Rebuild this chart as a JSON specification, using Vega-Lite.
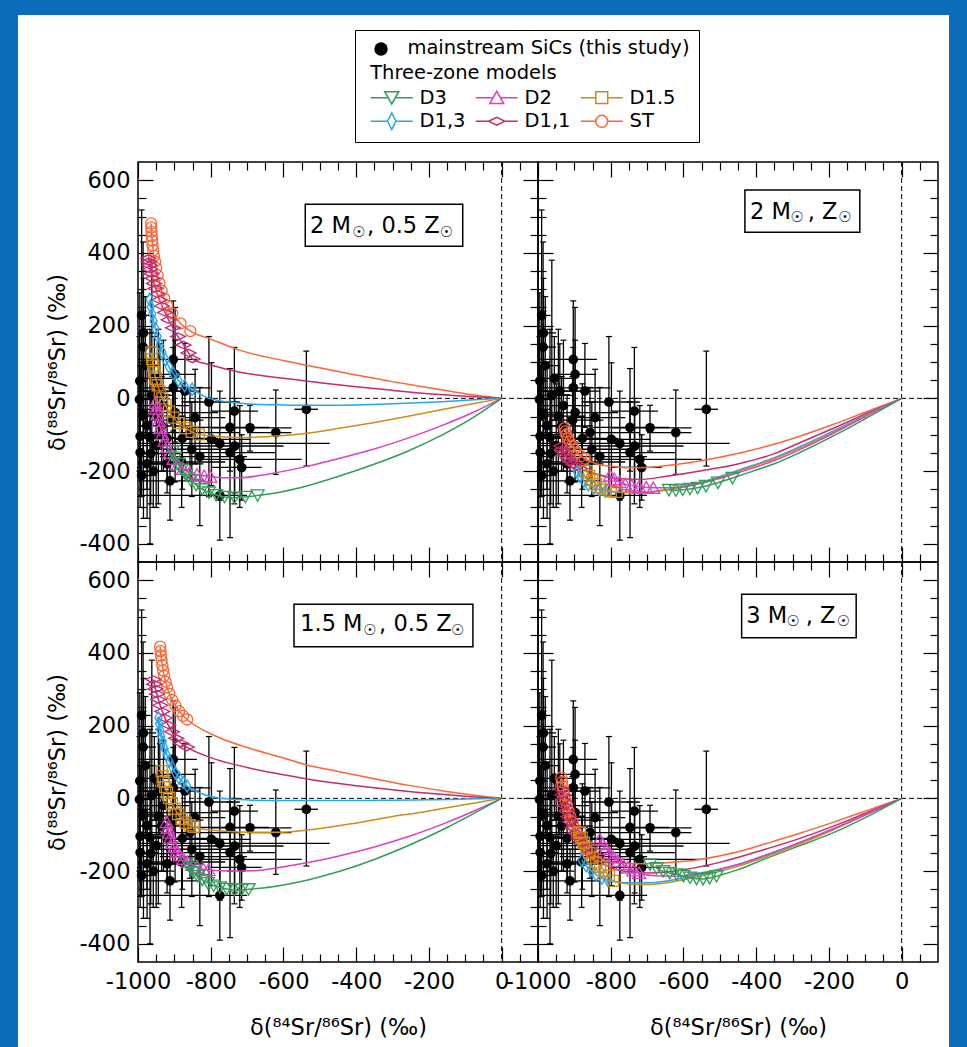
{
  "$schema": "https://vega.github.io/schema/vega-lite/v6.json",
  "background": "white",
  "padding": 0,
  "autosize": {"type": "pad"},
  "config": {
    "font": "DejaVu Sans",
    "view": {"stroke": null},
    "axis": {"grid": false, "domain": false, "tickColor": "black", "tickWidth": 1.2, "labelColor": "black", "titleColor": "black", "labelFontSize": 22.5, "titleFontSize": 22.5, "titleFontWeight": "normal"},
    "text": {"color": "black"}
  },
  "datasets": {
    "sic": [
      {"x":-990,"y":228,"xlo":-1000,"xhi":-965,"ylo":-60,"yhi":518},
      {"x":-986,"y":141,"xlo":-1000,"xhi":-950,"ylo":-160,"yhi":430},
      {"x":-995,"y":48,"xlo":-1000,"xhi":-975,"ylo":-190,"yhi":290},
      {"x":-962,"y":8,"xlo":-1000,"xhi":-905,"ylo":-180,"yhi":380},
      {"x":-985,"y":-45,"xlo":-1000,"xhi":-940,"ylo":-330,"yhi":240},
      {"x":-944,"y":-49,"xlo":-1000,"xhi":-870,"ylo":-290,"yhi":190},
      {"x":-994,"y":-104,"xlo":-1000,"xhi":-935,"ylo":-300,"yhi":90},
      {"x":-967,"y":-108,"xlo":-1000,"xhi":-900,"ylo":-400,"yhi":190},
      {"x":-994,"y":-149,"xlo":-1000,"xhi":-945,"ylo":-270,"yhi":-30},
      {"x":-965,"y":-152,"xlo":-1000,"xhi":-880,"ylo":-290,"yhi":0},
      {"x":-990,"y":-212,"xlo":-1000,"xhi":-950,"ylo":-270,"yhi":-150},
      {"x":-903,"y":107,"xlo":-1000,"xhi":-838,"ylo":-50,"yhi":268},
      {"x":-898,"y":66,"xlo":-960,"xhi":-840,"ylo":-120,"yhi":250},
      {"x":-903,"y":29,"xlo":-1000,"xhi":-800,"ylo":-90,"yhi":140},
      {"x":-871,"y":20,"xlo":-1000,"xhi":-830,"ylo":-80,"yhi":151},
      {"x":-898,"y":-39,"xlo":-1000,"xhi":-780,"ylo":-230,"yhi":160},
      {"x":-843,"y":-53,"xlo":-920,"xhi":-760,"ylo":-180,"yhi":80},
      {"x":-805,"y":-10,"xlo":-880,"xhi":-720,"ylo":-270,"yhi":170},
      {"x":-912,"y":-227,"xlo":-1000,"xhi":-830,"ylo":-335,"yhi":-140},
      {"x":-775,"y":-267,"xlo":-1000,"xhi":-700,"ylo":-390,"yhi":-130},
      {"x":-735,"y":-35,"xlo":-800,"xhi":-670,"ylo":-290,"yhi":140},
      {"x":-692,"y":-81,"xlo":-800,"xhi":-578,"ylo":-145,"yhi":-19},
      {"x":-621,"y":-94,"xlo":-700,"xhi":-578,"ylo":-209,"yhi":23},
      {"x":-537,"y":-30,"xlo":-570,"xhi":-505,"ylo":-186,"yhi":130},
      {"x":-734,"y":-131,"xlo":-860,"xhi":-600,"ylo":-260,"yhi":0},
      {"x":-747,"y":-149,"xlo":-880,"xhi":-620,"ylo":-383,"yhi":-10},
      {"x":-720,"y":-168,"xlo":-840,"xhi":-550,"ylo":-300,"yhi":-20},
      {"x":-775,"y":-124,"xlo":-1000,"xhi":-473,"ylo":-280,"yhi":20},
      {"x":-857,"y":-94,"xlo":-1000,"xhi":-720,"ylo":-220,"yhi":30},
      {"x":-852,"y":-140,"xlo":-960,"xhi":-740,"ylo":-270,"yhi":-10},
      {"x":-798,"y":-113,"xlo":-900,"xhi":-690,"ylo":-240,"yhi":98},
      {"x":-935,"y":-76,"xlo":-1000,"xhi":-850,"ylo":-200,"yhi":60},
      {"x":-950,"y":-130,"xlo":-1000,"xhi":-860,"ylo":-300,"yhi":40},
      {"x":-975,"y":-180,"xlo":-1000,"xhi":-900,"ylo":-330,"yhi":-30},
      {"x":-920,"y":-180,"xlo":-1000,"xhi":-820,"ylo":-260,"yhi":-100},
      {"x":-880,"y":-175,"xlo":-1000,"xhi":-760,"ylo":-300,"yhi":-50},
      {"x":-830,"y":-160,"xlo":-940,"xhi":-700,"ylo":-350,"yhi":30},
      {"x":-980,"y":90,"xlo":-1000,"xhi":-940,"ylo":-100,"yhi":280},
      {"x":-930,"y":-20,"xlo":-1000,"xhi":-860,"ylo":-200,"yhi":160},
      {"x":-715,"y":-190,"xlo":-800,"xhi":-660,"ylo":-280,"yhi":-100},
      {"x":-955,"y":55,"xlo":-1000,"xhi":-900,"ylo":-60,"yhi":170},
      {"x":-878,"y":-110,"xlo":-1000,"xhi":-780,"ylo":-250,"yhi":40},
      {"x":-747,"y":-80,"xlo":-850,"xhi":-640,"ylo":-200,"yhi":82},
      {"x":-996,"y":-3,"xlo":-1000,"xhi":-960,"ylo":-200,"yhi":170},
      {"x":-975,"y":-75,"xlo":-1000,"xhi":-930,"ylo":-250,"yhi":100},
      {"x":-958,"y":-200,"xlo":-1000,"xhi":-900,"ylo":-300,"yhi":-100},
      {"x":-940,"y":20,"xlo":-1000,"xhi":-880,"ylo":-100,"yhi":150},
      {"x":-985,"y":180,"xlo":-1000,"xhi":-950,"ylo":20,"yhi":330},
      {"x":-920,"y":-110,"xlo":-1000,"xhi":-840,"ylo":-230,"yhi":10},
      {"x":-905,"y":-60,"xlo":-970,"xhi":-820,"ylo":-180,"yhi":60}
    ],
    "curves": [
      {"p":"A","m":"ST","k":"pulse","x":-964,"y":481},{"p":"A","m":"ST","k":"pulse","x":-963.5,"y":470},{"p":"A","m":"ST","k":"pulse","x":-963,"y":458},{"p":"A","m":"ST","k":"pulse","x":-962,"y":446},{"p":"A","m":"ST","k":"pulse","x":-961,"y":434},{"p":"A","m":"ST","k":"pulse","x":-960,"y":421},{"p":"A","m":"ST","k":"pulse","x":-958,"y":407},{"p":"A","m":"ST","k":"pulse","x":-956,"y":392},{"p":"A","m":"ST","k":"pulse","x":-953,"y":376},{"p":"A","m":"ST","k":"pulse","x":-950,"y":358},{"p":"A","m":"ST","k":"pulse","x":-946,"y":338},{"p":"A","m":"ST","k":"pulse","x":-941,"y":317},{"p":"A","m":"ST","k":"pulse","x":-935,"y":296},{"p":"A","m":"ST","k":"pulse","x":-928,"y":275},{"p":"A","m":"ST","k":"pulse","x":-920,"y":255},{"p":"A","m":"ST","k":"pulse","x":-906,"y":234},{"p":"A","m":"ST","k":"pulse","x":-883,"y":206},{"p":"A","m":"ST","k":"pulse","x":-856,"y":185},
      {"p":"A","m":"ST","k":"mix","x":-800,"y":163},{"p":"A","m":"ST","k":"mix","x":-719,"y":132},{"p":"A","m":"ST","k":"mix","x":-600,"y":104},{"p":"A","m":"ST","k":"mix","x":-500,"y":84},{"p":"A","m":"ST","k":"mix","x":-400,"y":64},{"p":"A","m":"ST","k":"mix","x":-300,"y":46},{"p":"A","m":"ST","k":"mix","x":-200,"y":29},{"p":"A","m":"ST","k":"mix","x":-100,"y":13},{"p":"A","m":"ST","k":"mix","x":0,"y":0},
      {"p":"A","m":"D1,1","k":"pulse","x":-972,"y":385},{"p":"A","m":"D1,1","k":"pulse","x":-970,"y":376},{"p":"A","m":"D1,1","k":"pulse","x":-968,"y":366},{"p":"A","m":"D1,1","k":"pulse","x":-966,"y":355},{"p":"A","m":"D1,1","k":"pulse","x":-963,"y":343},{"p":"A","m":"D1,1","k":"pulse","x":-960,"y":330},{"p":"A","m":"D1,1","k":"pulse","x":-956,"y":316},{"p":"A","m":"D1,1","k":"pulse","x":-952,"y":302},{"p":"A","m":"D1,1","k":"pulse","x":-947,"y":287},{"p":"A","m":"D1,1","k":"pulse","x":-941,"y":271},{"p":"A","m":"D1,1","k":"pulse","x":-934,"y":254},{"p":"A","m":"D1,1","k":"pulse","x":-926,"y":236},{"p":"A","m":"D1,1","k":"pulse","x":-916,"y":216},{"p":"A","m":"D1,1","k":"pulse","x":-904,"y":194},{"p":"A","m":"D1,1","k":"pulse","x":-890,"y":170},{"p":"A","m":"D1,1","k":"pulse","x":-875,"y":147},{"p":"A","m":"D1,1","k":"pulse","x":-861,"y":125},{"p":"A","m":"D1,1","k":"pulse","x":-850,"y":108},
      {"p":"A","m":"D1,1","k":"mix","x":-800,"y":92},{"p":"A","m":"D1,1","k":"mix","x":-719,"y":72},{"p":"A","m":"D1,1","k":"mix","x":-600,"y":55},{"p":"A","m":"D1,1","k":"mix","x":-500,"y":43},{"p":"A","m":"D1,1","k":"mix","x":-400,"y":32},{"p":"A","m":"D1,1","k":"mix","x":-300,"y":22},{"p":"A","m":"D1,1","k":"mix","x":-200,"y":13},{"p":"A","m":"D1,1","k":"mix","x":-100,"y":6},{"p":"A","m":"D1,1","k":"mix","x":0,"y":0},
      {"p":"A","m":"D1,3","k":"pulse","x":-968,"y":272},{"p":"A","m":"D1,3","k":"pulse","x":-965,"y":252},{"p":"A","m":"D1,3","k":"pulse","x":-961,"y":232},{"p":"A","m":"D1,3","k":"pulse","x":-957,"y":212},{"p":"A","m":"D1,3","k":"pulse","x":-952,"y":192},{"p":"A","m":"D1,3","k":"pulse","x":-946,"y":170},{"p":"A","m":"D1,3","k":"pulse","x":-940,"y":148},{"p":"A","m":"D1,3","k":"pulse","x":-933,"y":127},{"p":"A","m":"D1,3","k":"pulse","x":-925,"y":107},{"p":"A","m":"D1,3","k":"pulse","x":-915,"y":87},{"p":"A","m":"D1,3","k":"pulse","x":-903,"y":68},{"p":"A","m":"D1,3","k":"pulse","x":-889,"y":50},{"p":"A","m":"D1,3","k":"pulse","x":-872,"y":35},{"p":"A","m":"D1,3","k":"pulse","x":-851,"y":25},
      {"p":"A","m":"D1,3","k":"mix","x":-810,"y":2},{"p":"A","m":"D1,3","k":"mix","x":-750,"y":-10},{"p":"A","m":"D1,3","k":"mix","x":-682,"y":-16},{"p":"A","m":"D1,3","k":"mix","x":-600,"y":-18},{"p":"A","m":"D1,3","k":"mix","x":-500,"y":-19},{"p":"A","m":"D1,3","k":"mix","x":-400,"y":-18},{"p":"A","m":"D1,3","k":"mix","x":-300,"y":-15},{"p":"A","m":"D1,3","k":"mix","x":-200,"y":-11},{"p":"A","m":"D1,3","k":"mix","x":-100,"y":-5},{"p":"A","m":"D1,3","k":"mix","x":0,"y":0},
      {"p":"A","m":"D1.5","k":"pulse","x":-963,"y":126},{"p":"A","m":"D1.5","k":"pulse","x":-961,"y":108},{"p":"A","m":"D1.5","k":"pulse","x":-958,"y":90},{"p":"A","m":"D1.5","k":"pulse","x":-955,"y":72},{"p":"A","m":"D1.5","k":"pulse","x":-951,"y":54},{"p":"A","m":"D1.5","k":"pulse","x":-946,"y":36},{"p":"A","m":"D1.5","k":"pulse","x":-940,"y":18},{"p":"A","m":"D1.5","k":"pulse","x":-933,"y":0},{"p":"A","m":"D1.5","k":"pulse","x":-925,"y":-18},{"p":"A","m":"D1.5","k":"pulse","x":-915,"y":-36},{"p":"A","m":"D1.5","k":"pulse","x":-903,"y":-53},{"p":"A","m":"D1.5","k":"pulse","x":-888,"y":-68},{"p":"A","m":"D1.5","k":"pulse","x":-870,"y":-82},{"p":"A","m":"D1.5","k":"pulse","x":-852,"y":-92},{"p":"A","m":"D1.5","k":"pulse","x":-833,"y":-99},
      {"p":"A","m":"D1.5","k":"mix","x":-760,"y":-106},{"p":"A","m":"D1.5","k":"mix","x":-700,"y":-108},{"p":"A","m":"D1.5","k":"mix","x":-640,"y":-105},{"p":"A","m":"D1.5","k":"mix","x":-536,"y":-96},{"p":"A","m":"D1.5","k":"mix","x":-450,"y":-83},{"p":"A","m":"D1.5","k":"mix","x":-353,"y":-67},{"p":"A","m":"D1.5","k":"mix","x":-250,"y":-48},{"p":"A","m":"D1.5","k":"mix","x":-170,"y":-32},{"p":"A","m":"D1.5","k":"mix","x":-80,"y":-15},{"p":"A","m":"D1.5","k":"mix","x":0,"y":0},
      {"p":"A","m":"D2","k":"pulse","x":-952,"y":-12},{"p":"A","m":"D2","k":"pulse","x":-950,"y":-28},{"p":"A","m":"D2","k":"pulse","x":-947,"y":-44},{"p":"A","m":"D2","k":"pulse","x":-943,"y":-62},{"p":"A","m":"D2","k":"pulse","x":-938,"y":-80},{"p":"A","m":"D2","k":"pulse","x":-933,"y":-98},{"p":"A","m":"D2","k":"pulse","x":-927,"y":-116},{"p":"A","m":"D2","k":"pulse","x":-920,"y":-133},{"p":"A","m":"D2","k":"pulse","x":-912,"y":-150},{"p":"A","m":"D2","k":"pulse","x":-902,"y":-166},{"p":"A","m":"D2","k":"pulse","x":-890,"y":-181},{"p":"A","m":"D2","k":"pulse","x":-876,"y":-194},{"p":"A","m":"D2","k":"pulse","x":-858,"y":-204},{"p":"A","m":"D2","k":"pulse","x":-838,"y":-210},{"p":"A","m":"D2","k":"pulse","x":-818,"y":-213},{"p":"A","m":"D2","k":"pulse","x":-801,"y":-215},
      {"p":"A","m":"D2","k":"mix","x":-760,"y":-218},{"p":"A","m":"D2","k":"mix","x":-719,"y":-218},{"p":"A","m":"D2","k":"mix","x":-640,"y":-208},{"p":"A","m":"D2","k":"mix","x":-536,"y":-187},{"p":"A","m":"D2","k":"mix","x":-450,"y":-166},{"p":"A","m":"D2","k":"mix","x":-353,"y":-140},{"p":"A","m":"D2","k":"mix","x":-260,"y":-110},{"p":"A","m":"D2","k":"mix","x":-170,"y":-77},{"p":"A","m":"D2","k":"mix","x":-79,"y":-39},{"p":"A","m":"D2","k":"mix","x":0,"y":0},
      {"p":"A","m":"D3","k":"pulse","x":-905,"y":-145},{"p":"A","m":"D3","k":"pulse","x":-898,"y":-163},{"p":"A","m":"D3","k":"pulse","x":-890,"y":-180},{"p":"A","m":"D3","k":"pulse","x":-880,"y":-196},{"p":"A","m":"D3","k":"pulse","x":-868,"y":-211},{"p":"A","m":"D3","k":"pulse","x":-855,"y":-225},{"p":"A","m":"D3","k":"pulse","x":-840,"y":-238},{"p":"A","m":"D3","k":"pulse","x":-823,"y":-250},{"p":"A","m":"D3","k":"pulse","x":-805,"y":-259},{"p":"A","m":"D3","k":"pulse","x":-785,"y":-266},{"p":"A","m":"D3","k":"pulse","x":-762,"y":-271},{"p":"A","m":"D3","k":"pulse","x":-735,"y":-273},{"p":"A","m":"D3","k":"pulse","x":-705,"y":-271},{"p":"A","m":"D3","k":"pulse","x":-671,"y":-267},
      {"p":"A","m":"D3","k":"mix","x":-600,"y":-256},{"p":"A","m":"D3","k":"mix","x":-536,"y":-241},{"p":"A","m":"D3","k":"mix","x":-450,"y":-215},{"p":"A","m":"D3","k":"mix","x":-353,"y":-182},{"p":"A","m":"D3","k":"mix","x":-260,"y":-146},{"p":"A","m":"D3","k":"mix","x":-170,"y":-104},{"p":"A","m":"D3","k":"mix","x":-79,"y":-53},{"p":"A","m":"D3","k":"mix","x":0,"y":0},

      {"p":"B","m":"ST","k":"pulse","x":-927,"y":-82},{"p":"B","m":"ST","k":"pulse","x":-925,"y":-91},{"p":"B","m":"ST","k":"pulse","x":-922,"y":-100},{"p":"B","m":"ST","k":"pulse","x":-918,"y":-110},{"p":"B","m":"ST","k":"pulse","x":-913,"y":-120},{"p":"B","m":"ST","k":"pulse","x":-907,"y":-130},{"p":"B","m":"ST","k":"pulse","x":-900,"y":-140},{"p":"B","m":"ST","k":"pulse","x":-892,"y":-150},{"p":"B","m":"ST","k":"pulse","x":-882,"y":-159},{"p":"B","m":"ST","k":"pulse","x":-871,"y":-166},
      {"p":"B","m":"ST","k":"mix","x":-840,"y":-180},{"p":"B","m":"ST","k":"mix","x":-790,"y":-188},{"p":"B","m":"ST","k":"mix","x":-747,"y":-191},{"p":"B","m":"ST","k":"mix","x":-700,"y":-190},{"p":"B","m":"ST","k":"mix","x":-640,"y":-184},{"p":"B","m":"ST","k":"mix","x":-555,"y":-172},{"p":"B","m":"ST","k":"mix","x":-445,"y":-150},{"p":"B","m":"ST","k":"mix","x":-354,"y":-127},{"p":"B","m":"ST","k":"mix","x":-280,"y":-104},{"p":"B","m":"ST","k":"mix","x":-189,"y":-72},{"p":"B","m":"ST","k":"mix","x":-100,"y":-38},{"p":"B","m":"ST","k":"mix","x":0,"y":0},
      {"p":"B","m":"D1,1","k":"pulse","x":-936,"y":-131},{"p":"B","m":"D1,1","k":"pulse","x":-933,"y":-140},{"p":"B","m":"D1,1","k":"pulse","x":-929,"y":-149},{"p":"B","m":"D1,1","k":"pulse","x":-924,"y":-158},{"p":"B","m":"D1,1","k":"pulse","x":-918,"y":-166},{"p":"B","m":"D1,1","k":"pulse","x":-911,"y":-174},{"p":"B","m":"D1,1","k":"pulse","x":-903,"y":-181},{"p":"B","m":"D1,1","k":"pulse","x":-894,"y":-187},{"p":"B","m":"D1,1","k":"pulse","x":-884,"y":-193},
      {"p":"B","m":"D1,1","k":"mix","x":-840,"y":-208},{"p":"B","m":"D1,1","k":"mix","x":-790,"y":-220},{"p":"B","m":"D1,1","k":"mix","x":-720,"y":-223},{"p":"B","m":"D1,1","k":"mix","x":-646,"y":-214},{"p":"B","m":"D1,1","k":"mix","x":-550,"y":-199},{"p":"B","m":"D1,1","k":"mix","x":-445,"y":-179},{"p":"B","m":"D1,1","k":"mix","x":-350,"y":-152},{"p":"B","m":"D1,1","k":"mix","x":-280,"y":-122},{"p":"B","m":"D1,1","k":"mix","x":-189,"y":-83},{"p":"B","m":"D1,1","k":"mix","x":-100,"y":-43},{"p":"B","m":"D1,1","k":"mix","x":0,"y":0},
      {"p":"B","m":"D1,3","k":"pulse","x":-892,"y":-203},{"p":"B","m":"D1,3","k":"pulse","x":-884,"y":-215},{"p":"B","m":"D1,3","k":"pulse","x":-874,"y":-227},{"p":"B","m":"D1,3","k":"pulse","x":-862,"y":-237},{"p":"B","m":"D1,3","k":"pulse","x":-848,"y":-245},{"p":"B","m":"D1,3","k":"pulse","x":-832,"y":-251},{"p":"B","m":"D1,3","k":"pulse","x":-815,"y":-255},
      {"p":"B","m":"D1,3","k":"mix","x":-780,"y":-258},{"p":"B","m":"D1,3","k":"mix","x":-720,"y":-259},{"p":"B","m":"D1,3","k":"mix","x":-650,"y":-251},{"p":"B","m":"D1,3","k":"mix","x":-550,"y":-231},{"p":"B","m":"D1,3","k":"mix","x":-445,"y":-196},{"p":"B","m":"D1,3","k":"mix","x":-350,"y":-163},{"p":"B","m":"D1,3","k":"mix","x":-280,"y":-133},{"p":"B","m":"D1,3","k":"mix","x":-189,"y":-90},{"p":"B","m":"D1,3","k":"mix","x":-100,"y":-46},{"p":"B","m":"D1,3","k":"mix","x":0,"y":0},
      {"p":"B","m":"D1.5","k":"pulse","x":-866,"y":-200},{"p":"B","m":"D1.5","k":"pulse","x":-859,"y":-213},{"p":"B","m":"D1.5","k":"pulse","x":-851,"y":-225},{"p":"B","m":"D1.5","k":"pulse","x":-841,"y":-236},{"p":"B","m":"D1.5","k":"pulse","x":-829,"y":-245},{"p":"B","m":"D1.5","k":"pulse","x":-815,"y":-251},{"p":"B","m":"D1.5","k":"pulse","x":-800,"y":-255},{"p":"B","m":"D1.5","k":"pulse","x":-784,"y":-257},
      {"p":"B","m":"D1.5","k":"mix","x":-720,"y":-261},{"p":"B","m":"D1.5","k":"mix","x":-650,"y":-253},{"p":"B","m":"D1.5","k":"mix","x":-550,"y":-233},{"p":"B","m":"D1.5","k":"mix","x":-445,"y":-199},{"p":"B","m":"D1.5","k":"mix","x":-350,"y":-166},{"p":"B","m":"D1.5","k":"mix","x":-280,"y":-137},{"p":"B","m":"D1.5","k":"mix","x":-189,"y":-94},{"p":"B","m":"D1.5","k":"mix","x":-100,"y":-48},{"p":"B","m":"D1.5","k":"mix","x":0,"y":0},
      {"p":"B","m":"D2","k":"pulse","x":-802,"y":-212},{"p":"B","m":"D2","k":"pulse","x":-790,"y":-222},{"p":"B","m":"D2","k":"pulse","x":-776,"y":-230},{"p":"B","m":"D2","k":"pulse","x":-760,"y":-236},{"p":"B","m":"D2","k":"pulse","x":-742,"y":-240},{"p":"B","m":"D2","k":"pulse","x":-722,"y":-243},{"p":"B","m":"D2","k":"pulse","x":-702,"y":-245},{"p":"B","m":"D2","k":"pulse","x":-683,"y":-246},
      {"p":"B","m":"D2","k":"mix","x":-640,"y":-246},{"p":"B","m":"D2","k":"mix","x":-550,"y":-233},{"p":"B","m":"D2","k":"mix","x":-445,"y":-203},{"p":"B","m":"D2","k":"mix","x":-350,"y":-171},{"p":"B","m":"D2","k":"mix","x":-280,"y":-141},{"p":"B","m":"D2","k":"mix","x":-189,"y":-97},{"p":"B","m":"D2","k":"mix","x":-100,"y":-50},{"p":"B","m":"D2","k":"mix","x":0,"y":0},
      {"p":"B","m":"D3","k":"pulse","x":-640,"y":-252},{"p":"B","m":"D3","k":"pulse","x":-621,"y":-253},{"p":"B","m":"D3","k":"pulse","x":-602,"y":-251},{"p":"B","m":"D3","k":"pulse","x":-582,"y":-249},{"p":"B","m":"D3","k":"pulse","x":-561,"y":-246},{"p":"B","m":"D3","k":"pulse","x":-538,"y":-241},{"p":"B","m":"D3","k":"pulse","x":-505,"y":-232},{"p":"B","m":"D3","k":"pulse","x":-465,"y":-219},
      {"p":"B","m":"D3","k":"mix","x":-400,"y":-197},{"p":"B","m":"D3","k":"mix","x":-350,"y":-180},{"p":"B","m":"D3","k":"mix","x":-280,"y":-149},{"p":"B","m":"D3","k":"mix","x":-189,"y":-104},{"p":"B","m":"D3","k":"mix","x":-100,"y":-56},{"p":"B","m":"D3","k":"mix","x":0,"y":0},

      {"p":"C","m":"ST","k":"pulse","x":-939,"y":417},{"p":"C","m":"ST","k":"pulse","x":-938,"y":405},{"p":"C","m":"ST","k":"pulse","x":-937,"y":393},{"p":"C","m":"ST","k":"pulse","x":-935,"y":380},{"p":"C","m":"ST","k":"pulse","x":-933,"y":366},{"p":"C","m":"ST","k":"pulse","x":-931,"y":352},{"p":"C","m":"ST","k":"pulse","x":-928,"y":337},{"p":"C","m":"ST","k":"pulse","x":-924,"y":321},{"p":"C","m":"ST","k":"pulse","x":-920,"y":305},{"p":"C","m":"ST","k":"pulse","x":-914,"y":288},{"p":"C","m":"ST","k":"pulse","x":-906,"y":271},{"p":"C","m":"ST","k":"pulse","x":-897,"y":255},{"p":"C","m":"ST","k":"pulse","x":-887,"y":240},{"p":"C","m":"ST","k":"pulse","x":-876,"y":227},{"p":"C","m":"ST","k":"pulse","x":-865,"y":217},
      {"p":"C","m":"ST","k":"mix","x":-774,"y":166},{"p":"C","m":"ST","k":"mix","x":-700,"y":140},{"p":"C","m":"ST","k":"mix","x":-600,"y":111},{"p":"C","m":"ST","k":"mix","x":-536,"y":92},{"p":"C","m":"ST","k":"mix","x":-450,"y":74},{"p":"C","m":"ST","k":"mix","x":-350,"y":54},{"p":"C","m":"ST","k":"mix","x":-250,"y":35},{"p":"C","m":"ST","k":"mix","x":-150,"y":19},{"p":"C","m":"ST","k":"mix","x":-70,"y":8},{"p":"C","m":"ST","k":"mix","x":0,"y":0},
      {"p":"C","m":"D1,1","k":"pulse","x":-958,"y":327},{"p":"C","m":"D1,1","k":"pulse","x":-955,"y":314},{"p":"C","m":"D1,1","k":"pulse","x":-952,"y":301},{"p":"C","m":"D1,1","k":"pulse","x":-948,"y":287},{"p":"C","m":"D1,1","k":"pulse","x":-944,"y":272},{"p":"C","m":"D1,1","k":"pulse","x":-939,"y":256},{"p":"C","m":"D1,1","k":"pulse","x":-933,"y":239},{"p":"C","m":"D1,1","k":"pulse","x":-926,"y":221},{"p":"C","m":"D1,1","k":"pulse","x":-917,"y":202},{"p":"C","m":"D1,1","k":"pulse","x":-907,"y":183},{"p":"C","m":"D1,1","k":"pulse","x":-895,"y":165},{"p":"C","m":"D1,1","k":"pulse","x":-881,"y":151},{"p":"C","m":"D1,1","k":"pulse","x":-866,"y":141},
      {"p":"C","m":"D1,1","k":"mix","x":-800,"y":112},{"p":"C","m":"D1,1","k":"mix","x":-700,"y":85},{"p":"C","m":"D1,1","k":"mix","x":-600,"y":65},{"p":"C","m":"D1,1","k":"mix","x":-500,"y":48},{"p":"C","m":"D1,1","k":"mix","x":-400,"y":35},{"p":"C","m":"D1,1","k":"mix","x":-300,"y":24},{"p":"C","m":"D1,1","k":"mix","x":-200,"y":14},{"p":"C","m":"D1,1","k":"mix","x":-100,"y":6},{"p":"C","m":"D1,1","k":"mix","x":0,"y":0},
      {"p":"C","m":"D1,3","k":"pulse","x":-944,"y":222},{"p":"C","m":"D1,3","k":"pulse","x":-942,"y":205},{"p":"C","m":"D1,3","k":"pulse","x":-939,"y":188},{"p":"C","m":"D1,3","k":"pulse","x":-936,"y":171},{"p":"C","m":"D1,3","k":"pulse","x":-932,"y":154},{"p":"C","m":"D1,3","k":"pulse","x":-927,"y":137},{"p":"C","m":"D1,3","k":"pulse","x":-921,"y":120},{"p":"C","m":"D1,3","k":"pulse","x":-914,"y":103},{"p":"C","m":"D1,3","k":"pulse","x":-906,"y":86},{"p":"C","m":"D1,3","k":"pulse","x":-897,"y":70},{"p":"C","m":"D1,3","k":"pulse","x":-887,"y":56},{"p":"C","m":"D1,3","k":"pulse","x":-876,"y":44},{"p":"C","m":"D1,3","k":"pulse","x":-865,"y":34},
      {"p":"C","m":"D1,3","k":"mix","x":-810,"y":8},{"p":"C","m":"D1,3","k":"mix","x":-750,"y":-2},{"p":"C","m":"D1,3","k":"mix","x":-682,"y":-5},{"p":"C","m":"D1,3","k":"mix","x":-600,"y":-6},{"p":"C","m":"D1,3","k":"mix","x":-500,"y":-6},{"p":"C","m":"D1,3","k":"mix","x":-400,"y":-6},{"p":"C","m":"D1,3","k":"mix","x":-300,"y":-5},{"p":"C","m":"D1,3","k":"mix","x":-200,"y":-4},{"p":"C","m":"D1,3","k":"mix","x":-100,"y":-2},{"p":"C","m":"D1,3","k":"mix","x":0,"y":0},
      {"p":"C","m":"D1.5","k":"pulse","x":-935,"y":75},{"p":"C","m":"D1.5","k":"pulse","x":-932,"y":61},{"p":"C","m":"D1.5","k":"pulse","x":-929,"y":46},{"p":"C","m":"D1.5","k":"pulse","x":-925,"y":31},{"p":"C","m":"D1.5","k":"pulse","x":-920,"y":16},{"p":"C","m":"D1.5","k":"pulse","x":-914,"y":1},{"p":"C","m":"D1.5","k":"pulse","x":-907,"y":-14},{"p":"C","m":"D1.5","k":"pulse","x":-899,"y":-29},{"p":"C","m":"D1.5","k":"pulse","x":-890,"y":-43},{"p":"C","m":"D1.5","k":"pulse","x":-880,"y":-56},{"p":"C","m":"D1.5","k":"pulse","x":-869,"y":-67},{"p":"C","m":"D1.5","k":"pulse","x":-858,"y":-74},{"p":"C","m":"D1.5","k":"pulse","x":-847,"y":-78},
      {"p":"C","m":"D1.5","k":"mix","x":-774,"y":-90},{"p":"C","m":"D1.5","k":"mix","x":-700,"y":-93},{"p":"C","m":"D1.5","k":"mix","x":-609,"y":-93},{"p":"C","m":"D1.5","k":"mix","x":-500,"y":-83},{"p":"C","m":"D1.5","k":"mix","x":-408,"y":-69},{"p":"C","m":"D1.5","k":"mix","x":-300,"y":-50},{"p":"C","m":"D1.5","k":"mix","x":-225,"y":-39},{"p":"C","m":"D1.5","k":"mix","x":-150,"y":-26},{"p":"C","m":"D1.5","k":"mix","x":-70,"y":-12},{"p":"C","m":"D1.5","k":"mix","x":0,"y":0},
      {"p":"C","m":"D2","k":"pulse","x":-921,"y":-65},{"p":"C","m":"D2","k":"pulse","x":-918,"y":-80},{"p":"C","m":"D2","k":"pulse","x":-915,"y":-94},{"p":"C","m":"D2","k":"pulse","x":-911,"y":-108},{"p":"C","m":"D2","k":"pulse","x":-906,"y":-122},{"p":"C","m":"D2","k":"pulse","x":-900,"y":-134},{"p":"C","m":"D2","k":"pulse","x":-893,"y":-146},{"p":"C","m":"D2","k":"pulse","x":-885,"y":-156},{"p":"C","m":"D2","k":"pulse","x":-875,"y":-166},{"p":"C","m":"D2","k":"pulse","x":-864,"y":-175},{"p":"C","m":"D2","k":"pulse","x":-851,"y":-183},{"p":"C","m":"D2","k":"pulse","x":-836,"y":-190},{"p":"C","m":"D2","k":"pulse","x":-820,"y":-195},{"p":"C","m":"D2","k":"pulse","x":-806,"y":-197},
      {"p":"C","m":"D2","k":"mix","x":-740,"y":-200},{"p":"C","m":"D2","k":"mix","x":-682,"y":-199},{"p":"C","m":"D2","k":"mix","x":-600,"y":-188},{"p":"C","m":"D2","k":"mix","x":-536,"y":-177},{"p":"C","m":"D2","k":"mix","x":-450,"y":-159},{"p":"C","m":"D2","k":"mix","x":-350,"y":-134},{"p":"C","m":"D2","k":"mix","x":-250,"y":-103},{"p":"C","m":"D2","k":"mix","x":-150,"y":-66},{"p":"C","m":"D2","k":"mix","x":-70,"y":-32},{"p":"C","m":"D2","k":"mix","x":0,"y":0},
      {"p":"C","m":"D3","k":"pulse","x":-866,"y":-178},{"p":"C","m":"D3","k":"pulse","x":-857,"y":-191},{"p":"C","m":"D3","k":"pulse","x":-847,"y":-203},{"p":"C","m":"D3","k":"pulse","x":-836,"y":-214},{"p":"C","m":"D3","k":"pulse","x":-823,"y":-224},{"p":"C","m":"D3","k":"pulse","x":-808,"y":-233},{"p":"C","m":"D3","k":"pulse","x":-792,"y":-240},{"p":"C","m":"D3","k":"pulse","x":-775,"y":-245},{"p":"C","m":"D3","k":"pulse","x":-756,"y":-249},{"p":"C","m":"D3","k":"pulse","x":-735,"y":-251},{"p":"C","m":"D3","k":"pulse","x":-715,"y":-251},{"p":"C","m":"D3","k":"pulse","x":-696,"y":-250},
      {"p":"C","m":"D3","k":"mix","x":-600,"y":-238},{"p":"C","m":"D3","k":"mix","x":-536,"y":-225},{"p":"C","m":"D3","k":"mix","x":-450,"y":-202},{"p":"C","m":"D3","k":"mix","x":-350,"y":-168},{"p":"C","m":"D3","k":"mix","x":-250,"y":-127},{"p":"C","m":"D3","k":"mix","x":-150,"y":-80},{"p":"C","m":"D3","k":"mix","x":-70,"y":-38},{"p":"C","m":"D3","k":"mix","x":0,"y":0},

      {"p":"D","m":"ST","k":"pulse","x":-936,"y":57},{"p":"D","m":"ST","k":"pulse","x":-934,"y":45},{"p":"D","m":"ST","k":"pulse","x":-932,"y":33},{"p":"D","m":"ST","k":"pulse","x":-930,"y":21},{"p":"D","m":"ST","k":"pulse","x":-927,"y":8},{"p":"D","m":"ST","k":"pulse","x":-924,"y":-6},{"p":"D","m":"ST","k":"pulse","x":-920,"y":-20},{"p":"D","m":"ST","k":"pulse","x":-916,"y":-35},{"p":"D","m":"ST","k":"pulse","x":-911,"y":-50},{"p":"D","m":"ST","k":"pulse","x":-906,"y":-65},{"p":"D","m":"ST","k":"pulse","x":-900,"y":-80},{"p":"D","m":"ST","k":"pulse","x":-893,"y":-95},{"p":"D","m":"ST","k":"pulse","x":-885,"y":-110},{"p":"D","m":"ST","k":"pulse","x":-876,"y":-125},{"p":"D","m":"ST","k":"pulse","x":-866,"y":-140},
      {"p":"D","m":"ST","k":"mix","x":-830,"y":-165},{"p":"D","m":"ST","k":"mix","x":-784,"y":-177},{"p":"D","m":"ST","k":"mix","x":-720,"y":-180},{"p":"D","m":"ST","k":"mix","x":-646,"y":-177},{"p":"D","m":"ST","k":"mix","x":-555,"y":-168},{"p":"D","m":"ST","k":"mix","x":-450,"y":-147},{"p":"D","m":"ST","k":"mix","x":-372,"y":-124},{"p":"D","m":"ST","k":"mix","x":-280,"y":-96},{"p":"D","m":"ST","k":"mix","x":-189,"y":-66},{"p":"D","m":"ST","k":"mix","x":-100,"y":-35},{"p":"D","m":"ST","k":"mix","x":0,"y":0},
      {"p":"D","m":"D1,1","k":"pulse","x":-936,"y":25},{"p":"D","m":"D1,1","k":"pulse","x":-933,"y":10},{"p":"D","m":"D1,1","k":"pulse","x":-930,"y":-5},{"p":"D","m":"D1,1","k":"pulse","x":-926,"y":-20},{"p":"D","m":"D1,1","k":"pulse","x":-922,"y":-35},{"p":"D","m":"D1,1","k":"pulse","x":-917,"y":-50},{"p":"D","m":"D1,1","k":"pulse","x":-911,"y":-65},{"p":"D","m":"D1,1","k":"pulse","x":-904,"y":-80},{"p":"D","m":"D1,1","k":"pulse","x":-897,"y":-95},{"p":"D","m":"D1,1","k":"pulse","x":-889,"y":-110},{"p":"D","m":"D1,1","k":"pulse","x":-880,"y":-124},{"p":"D","m":"D1,1","k":"pulse","x":-870,"y":-137},{"p":"D","m":"D1,1","k":"pulse","x":-859,"y":-150},{"p":"D","m":"D1,1","k":"pulse","x":-847,"y":-162},
      {"p":"D","m":"D1,1","k":"mix","x":-800,"y":-190},{"p":"D","m":"D1,1","k":"mix","x":-740,"y":-203},{"p":"D","m":"D1,1","k":"mix","x":-692,"y":-205},{"p":"D","m":"D1,1","k":"mix","x":-600,"y":-196},{"p":"D","m":"D1,1","k":"mix","x":-500,"y":-176},{"p":"D","m":"D1,1","k":"mix","x":-372,"y":-139},{"p":"D","m":"D1,1","k":"mix","x":-280,"y":-110},{"p":"D","m":"D1,1","k":"mix","x":-189,"y":-77},{"p":"D","m":"D1,1","k":"mix","x":-100,"y":-41},{"p":"D","m":"D1,1","k":"mix","x":0,"y":0},
      {"p":"D","m":"D1,3","k":"pulse","x":-880,"y":-170},{"p":"D","m":"D1,3","k":"pulse","x":-868,"y":-185},{"p":"D","m":"D1,3","k":"pulse","x":-855,"y":-198},{"p":"D","m":"D1,3","k":"pulse","x":-840,"y":-210},{"p":"D","m":"D1,3","k":"pulse","x":-824,"y":-219},{"p":"D","m":"D1,3","k":"pulse","x":-808,"y":-225},
      {"p":"D","m":"D1,3","k":"mix","x":-760,"y":-232},{"p":"D","m":"D1,3","k":"mix","x":-700,"y":-232},{"p":"D","m":"D1,3","k":"mix","x":-646,"y":-227},{"p":"D","m":"D1,3","k":"mix","x":-550,"y":-208},{"p":"D","m":"D1,3","k":"mix","x":-450,"y":-182},{"p":"D","m":"D1,3","k":"mix","x":-372,"y":-155},{"p":"D","m":"D1,3","k":"mix","x":-280,"y":-121},{"p":"D","m":"D1,3","k":"mix","x":-189,"y":-84},{"p":"D","m":"D1,3","k":"mix","x":-100,"y":-45},{"p":"D","m":"D1,3","k":"mix","x":0,"y":0},
      {"p":"D","m":"D1.5","k":"pulse","x":-885,"y":-94},{"p":"D","m":"D1.5","k":"pulse","x":-880,"y":-108},{"p":"D","m":"D1.5","k":"pulse","x":-874,"y":-122},{"p":"D","m":"D1.5","k":"pulse","x":-867,"y":-136},{"p":"D","m":"D1.5","k":"pulse","x":-859,"y":-150},{"p":"D","m":"D1.5","k":"pulse","x":-850,"y":-163},{"p":"D","m":"D1.5","k":"pulse","x":-840,"y":-176},{"p":"D","m":"D1.5","k":"pulse","x":-829,"y":-188},{"p":"D","m":"D1.5","k":"pulse","x":-817,"y":-199},{"p":"D","m":"D1.5","k":"pulse","x":-805,"y":-213},{"p":"D","m":"D1.5","k":"pulse","x":-793,"y":-227},
      {"p":"D","m":"D1.5","k":"mix","x":-740,"y":-236},{"p":"D","m":"D1.5","k":"mix","x":-700,"y":-237},{"p":"D","m":"D1.5","k":"mix","x":-646,"y":-232},{"p":"D","m":"D1.5","k":"mix","x":-550,"y":-213},{"p":"D","m":"D1.5","k":"mix","x":-450,"y":-187},{"p":"D","m":"D1.5","k":"mix","x":-372,"y":-160},{"p":"D","m":"D1.5","k":"mix","x":-280,"y":-125},{"p":"D","m":"D1.5","k":"mix","x":-189,"y":-87},{"p":"D","m":"D1.5","k":"mix","x":-100,"y":-46},{"p":"D","m":"D1.5","k":"mix","x":0,"y":0},
      {"p":"D","m":"D2","k":"pulse","x":-830,"y":-113},{"p":"D","m":"D2","k":"pulse","x":-822,"y":-126},{"p":"D","m":"D2","k":"pulse","x":-813,"y":-139},{"p":"D","m":"D2","k":"pulse","x":-803,"y":-151},{"p":"D","m":"D2","k":"pulse","x":-792,"y":-162},{"p":"D","m":"D2","k":"pulse","x":-780,"y":-172},{"p":"D","m":"D2","k":"pulse","x":-767,"y":-181},{"p":"D","m":"D2","k":"pulse","x":-753,"y":-190},{"p":"D","m":"D2","k":"pulse","x":-738,"y":-198},{"p":"D","m":"D2","k":"pulse","x":-722,"y":-205},
      {"p":"D","m":"D2","k":"mix","x":-680,"y":-213},{"p":"D","m":"D2","k":"mix","x":-620,"y":-214},{"p":"D","m":"D2","k":"mix","x":-550,"y":-205},{"p":"D","m":"D2","k":"mix","x":-450,"y":-182},{"p":"D","m":"D2","k":"mix","x":-372,"y":-156},{"p":"D","m":"D2","k":"mix","x":-280,"y":-121},{"p":"D","m":"D2","k":"mix","x":-189,"y":-84},{"p":"D","m":"D2","k":"mix","x":-100,"y":-45},{"p":"D","m":"D2","k":"mix","x":0,"y":0},
      {"p":"D","m":"D3","k":"pulse","x":-692,"y":-182},{"p":"D","m":"D3","k":"pulse","x":-674,"y":-192},{"p":"D","m":"D3","k":"pulse","x":-656,"y":-200},{"p":"D","m":"D3","k":"pulse","x":-638,"y":-205},{"p":"D","m":"D3","k":"pulse","x":-619,"y":-209},{"p":"D","m":"D3","k":"pulse","x":-600,"y":-214},{"p":"D","m":"D3","k":"pulse","x":-582,"y":-218},{"p":"D","m":"D3","k":"pulse","x":-564,"y":-221},{"p":"D","m":"D3","k":"pulse","x":-546,"y":-222},{"p":"D","m":"D3","k":"pulse","x":-528,"y":-219},{"p":"D","m":"D3","k":"pulse","x":-509,"y":-214},
      {"p":"D","m":"D3","k":"mix","x":-450,"y":-196},{"p":"D","m":"D3","k":"mix","x":-372,"y":-165},{"p":"D","m":"D3","k":"mix","x":-280,"y":-130},{"p":"D","m":"D3","k":"mix","x":-189,"y":-95},{"p":"D","m":"D3","k":"mix","x":-100,"y":-53},{"p":"D","m":"D3","k":"mix","x":0,"y":0}
    ],
    "boxes": [
      {"p":"A","x1":-540,"x2":-107,"y1":418,"y2":534},
      {"p":"B","x1":-431,"x2":-115,"y1":457,"y2":573},
      {"p":"C","x1":-571,"x2":-79,"y1":417,"y2":534},
      {"p":"D","x1":-440,"x2":-125,"y1":442,"y2":561}
    ],
    "texts": [
      {"p":"A","t":"2 M","x":-527,"y":454},{"p":"A","t":", 0.5 Z","x":-370,"y":454},
      {"p":"B","t":"2 M","x":-417,"y":494},{"p":"B","t":", Z","x":-258,"y":494},
      {"p":"C","t":"1.5 M","x":-554,"y":460},{"p":"C","t":", 0.5 Z","x":-337,"y":460},
      {"p":"D","t":"3 M","x":-427,"y":483},{"p":"D","t":", Z","x":-264,"y":483}
    ],
    "suns": [
      {"p":"A","t":"☉","x":-392,"y":458},{"p":"A","t":"☉","x":-152,"y":458},
      {"p":"B","t":"☉","x":-287,"y":498},{"p":"B","t":"☉","x":-156,"y":498},
      {"p":"C","t":"☉","x":-362,"y":464},{"p":"C","t":"☉","x":-121,"y":464},
      {"p":"D","t":"☉","x":-298,"y":487},{"p":"D","t":"☉","x":-160,"y":487}
    ]
  },
  "columns": 6,
  "bounds": "flush",
  "align": "each",
  "spacing": 0,
  "resolve": {"scale": {"fill": "independent", "stroke": "independent", "shape": "independent"}},
  "concat": [
    {"width": 18, "height": 15, "data": {"values": []}, "mark": "point", "view": {"fill": "#0b6ebd", "stroke": null}},
    {"width": 120, "height": 15, "data": {"values": []}, "mark": "point", "view": {"fill": "#0b6ebd", "stroke": null}},
    {"width": 400, "height": 15, "data": {"values": []}, "mark": "point", "view": {"fill": "#0b6ebd", "stroke": null}},
    {"width": 400, "height": 15, "data": {"values": []}, "mark": "point", "view": {"fill": "#0b6ebd", "stroke": null}},
    {"width": 11, "height": 15, "data": {"values": []}, "mark": "point", "view": {"fill": "#0b6ebd", "stroke": null}},
    {"width": 18, "height": 15, "data": {"values": []}, "mark": "point", "view": {"fill": "#0b6ebd", "stroke": null}},

    {"width": 18, "height": 147, "data": {"values": []}, "mark": "point", "view": {"fill": "#0b6ebd", "stroke": null}},
    {"width": 1, "height": 1, "data": {"values": []}, "mark": "point", "view": {"stroke": null}},
    {
      "width": 1, "height": 1, "view": {"stroke": null},
      "layer": [
        {
          "data": {"values": []},
          "mark": {"type": "point", "filled": true, "opacity": 1},
          "encoding": {
            "fill": {"field": "group", "type": "nominal",
              "scale": {"domain": ["mainstream SiCs (this study)"], "range": ["black"]},
              "legend": {"orient": "none", "legendX": 236, "legendY": 27, "title": null, "labelExpr": "''", "symbolType": "circle", "symbolSize": 180, "padding": 0, "symbolStrokeWidth": 0}}
          }
        },
        {
          "data": {"values": []},
          "mark": {"type": "point", "filled": false, "opacity": 1, "strokeWidth": 1.5},
          "encoding": {
            "stroke": {"field": "model", "type": "nominal",
              "scale": {"domain": ["D3","D2","D1.5","D1,3","D1,1","ST"], "range": ["#2e9e58","#dc3fc4","#d08b16","#27a5ef","#c52b6d","#ff6433"]},
              "legend": {"orient": "none", "direction": "horizontal", "legendX": 217, "legendY": 15, "title": ["\u200b\u00a0\u00a0\u00a0\u00a0\u00a0\u00a0\u00a0mainstream SiCs (this study)", "\u200b\u00a0Three-zone models"], "titleLimit": 600, "titleFontSize": 19.5, "titleFontWeight": "normal", "titleLineHeight": 25, "titlePadding": 4, "titleColor": "black", "columns": 3, "columnPadding": 3, "rowPadding": 2, "symbolSize": 196, "symbolStrokeWidth": 1.5, "symbolOffset": 18, "labelOffset": 18, "labelFontSize": 19.5, "labelColor": "black", "padding": 9, "strokeColor": "black"}},
            "shape": {"field": "model", "type": "nominal",
              "scale": {"domain": ["D3","D2","D1.5","D1,3","D1,1","ST"], "range": [
                "M-3,0H-0.51M0.51,0H3M-1,-0.85L1,-0.85L0,0.9Z",
                "M-3,0H-0.49M0.49,0H3M-1,0.85L1,0.85L0,-0.9Z",
                "M-3,0H-0.85M0.85,0H3M-0.85,-0.85H0.85V0.85H-0.85Z",
                "M-3,0H-0.6M0.6,0H3M0,-1.2L0.6,0L0,1.2L-0.6,0Z",
                "M-3,0H-1.15M1.15,0H3M-1.15,0L0,-0.55L1.15,0L0,0.55Z",
                "M-3,0H-0.85M0.85,0H3M-0.85,0A0.85,0.85,0,1,1,0.85,0A0.85,0.85,0,1,1,-0.85,0Z"]},
              "legend": {"orient": "none", "direction": "horizontal", "legendX": 217, "legendY": 15, "title": ["\u200b\u00a0\u00a0\u00a0\u00a0\u00a0\u00a0\u00a0mainstream SiCs (this study)", "\u200b\u00a0Three-zone models"], "titleLimit": 600, "titleFontSize": 19.5, "titleFontWeight": "normal", "titleLineHeight": 25, "titlePadding": 4, "titleColor": "black", "columns": 3, "columnPadding": 3, "rowPadding": 2, "symbolSize": 196, "symbolStrokeWidth": 1.5, "symbolOffset": 18, "labelOffset": 18, "labelFontSize": 19.5, "labelColor": "black", "padding": 9, "strokeColor": "black"}}
          }
        }
      ]
    },
    {"width": 1, "height": 1, "data": {"values": []}, "mark": "point", "view": {"stroke": null}},
    {"width": 1, "height": 1, "data": {"values": []}, "mark": "point", "view": {"stroke": null}},
    {"width": 18, "height": 147, "data": {"values": []}, "mark": "point", "view": {"fill": "#0b6ebd", "stroke": null}},

    {"width": 18, "height": 400, "data": {"values": []}, "mark": "point", "view": {"fill": "#0b6ebd", "stroke": null}},
    {"width": 1, "height": 1, "data": {"values": []}, "mark": "point", "view": {"stroke": null}},
    {
      "width": 400, "height": 400, "view": {"stroke": "black", "strokeWidth": 1.5},
      "resolve": {"axis": {"x": "independent", "y": "independent"}},
      "layer": [
        {"data": {"values": [{"v": 0}]}, "mark": {"type": "rule", "color": "black", "strokeWidth": 1, "strokeDash": [5, 3]}, "encoding": {"y": {"field": "v", "type": "quantitative", "scale": {"domain": [-450, 650], "nice": false, "zero": false}, "axis": null}}},
        {"data": {"values": [{"v": 0}]}, "mark": {"type": "rule", "color": "black", "strokeWidth": 1, "strokeDash": [5, 3]}, "encoding": {"x": {"field": "v", "type": "quantitative", "scale": {"domain": [-1000, 100], "nice": false, "zero": false}, "axis": null}}},
        {"data": {"name": "sic"}, "mark": {"type": "rule", "color": "black", "strokeWidth": 1.3},
         "encoding": {"x": {"field": "xlo", "type": "quantitative", "scale": {"domain": [-1000, 100], "nice": false, "zero": false}, "axis": null}, "x2": {"field": "xhi"},
                      "y": {"field": "y", "type": "quantitative", "scale": {"domain": [-450, 650], "nice": false, "zero": false}, "axis": {"orient": "left", "values": [-400, -200, 0, 200, 400, 600], "ticks": false, "labelPadding": 8, "labelFlush": false, "labelOverlap": false, "labelExpr": "'' + datum.value", "title": "δ(⁸⁸Sr/⁸⁶Sr) (‰)", "titlePadding": 9}}}},
        {"data": {"name": "sic"}, "mark": {"type": "rule", "color": "black", "strokeWidth": 1.3},
         "encoding": {"x": {"field": "x", "type": "quantitative", "axis": {"orient": "bottom", "values": [-1000, -800, -600, -400, -200, 0], "tickSize": -15, "labels": false, "title": null}},
                      "y": {"field": "ylo", "type": "quantitative", "axis": {"orient": "left", "values": [-400, -200, 0, 200, 400, 600], "tickSize": -15, "labels": false, "title": null}}, "y2": {"field": "yhi"}}},
        {"data": {"name": "sic"}, "mark": {"type": "point", "shape": "stroke", "size": 36, "color": "black", "strokeWidth": 1.2, "opacity": 1},
         "encoding": {"x": {"field": "x", "type": "quantitative", "axis": {"orient": "bottom", "values": [-950, -900, -850, -750, -700, -650, -550, -500, -450, -350, -300, -250, -150, -100, -50, 50], "tickSize": -8, "labels": false, "title": null}},
                      "y": {"field": "yhi", "type": "quantitative", "axis": {"orient": "left", "values": [-350, -300, -250, -150, -100, -50, 50, 100, 150, 250, 300, 350, 450, 500, 550], "tickSize": -8, "labels": false, "title": null}}}},
        {"data": {"name": "sic"}, "mark": {"type": "point", "shape": "stroke", "size": 36, "color": "black", "strokeWidth": 1.2, "opacity": 1},
         "encoding": {"x": {"field": "x", "type": "quantitative", "axis": {"orient": "top", "values": [-1000, -800, -600, -400, -200, 0], "tickSize": -15, "labels": false, "title": null}},
                      "y": {"field": "ylo", "type": "quantitative", "axis": {"orient": "right", "values": [-400, -200, 0, 200, 400, 600], "tickSize": -15, "labels": false, "title": null}}}},
        {"data": {"name": "sic"}, "mark": {"type": "circle", "size": 95, "color": "black", "opacity": 1},
         "encoding": {"x": {"field": "x", "type": "quantitative", "axis": {"orient": "top", "values": [-950, -900, -850, -750, -700, -650, -550, -500, -450, -350, -300, -250, -150, -100, -50, 50], "tickSize": -8, "labels": false, "title": null}},
                      "y": {"field": "y", "type": "quantitative", "axis": {"orient": "right", "values": [-350, -300, -250, -150, -100, -50, 50, 100, 150, 250, 300, 350, 450, 500, 550], "tickSize": -8, "labels": false, "title": null}}}},
        {"data": {"name": "curves"}, "transform": [{"filter": {"field": "p", "equal": "A"}}],
         "mark": {"type": "line", "strokeWidth": 1.5, "interpolate": "monotone"},
         "encoding": {"x": {"field": "x", "type": "quantitative", "axis": null}, "y": {"field": "y", "type": "quantitative", "axis": null},
                      "stroke": {"field": "m", "type": "nominal", "legend": null, "scale": {"domain": ["D3","D2","D1.5","D1,3","D1,1","ST"], "range": ["#2e9e58","#dc3fc4","#d08b16","#27a5ef","#c52b6d","#ff6433"]}}}},
        {"data": {"name": "curves"}, "transform": [{"filter": {"field": "p", "equal": "A"}}, {"filter": {"field": "k", "equal": "pulse"}}],
         "mark": {"type": "point", "filled": false, "size": 169, "strokeWidth": 1.3, "opacity": 1},
         "encoding": {"x": {"field": "x", "type": "quantitative", "axis": null}, "y": {"field": "y", "type": "quantitative", "axis": null},
                      "stroke": {"field": "m", "type": "nominal", "legend": null, "scale": {"domain": ["D3","D2","D1.5","D1,3","D1,1","ST"], "range": ["#2e9e58","#dc3fc4","#d08b16","#27a5ef","#c52b6d","#ff6433"]}},
                      "shape": {"field": "m", "type": "nominal", "legend": null, "scale": {"domain": ["D3","D2","D1.5","D1,3","D1,1","ST"], "range": ["M-1,-0.85L1,-0.85L0,0.9Z","M-1,0.85L1,0.85L0,-0.9Z","M-0.85,-0.85H0.85V0.85H-0.85Z","M0,-0.95L0.55,0L0,0.95L-0.55,0Z","M-1.15,0L0,-0.55L1.15,0L0,0.55Z","M-0.85,0A0.85,0.85,0,1,1,0.85,0A0.85,0.85,0,1,1,-0.85,0Z"]}}}},
        {"data": {"name": "boxes"}, "transform": [{"filter": {"field": "p", "equal": "A"}}],
         "mark": {"type": "rect", "filled": false, "stroke": "black", "strokeWidth": 1.5},
         "encoding": {"x": {"field": "x1", "type": "quantitative", "axis": null}, "x2": {"field": "x2"}, "y": {"field": "y1", "type": "quantitative", "axis": null}, "y2": {"field": "y2"}}},
        {"data": {"name": "texts"}, "transform": [{"filter": {"field": "p", "equal": "A"}}],
         "mark": {"type": "text", "align": "left", "baseline": "alphabetic", "fontSize": 22.5},
         "encoding": {"x": {"field": "x", "type": "quantitative", "axis": null}, "y": {"field": "y", "type": "quantitative", "axis": null}, "text": {"field": "t"}}},
        {"data": {"name": "suns"}, "transform": [{"filter": {"field": "p", "equal": "A"}}],
         "mark": {"type": "text", "align": "center", "baseline": "middle", "fontSize": 15},
         "encoding": {"x": {"field": "x", "type": "quantitative", "axis": null}, "y": {"field": "y", "type": "quantitative", "axis": null}, "text": {"field": "t"}}}
      ]
    },
    {
      "width": 400, "height": 400, "view": {"stroke": "black", "strokeWidth": 1.5},
      "resolve": {"axis": {"x": "independent", "y": "independent"}},
      "layer": [
        {"data": {"values": [{"v": 0}]}, "mark": {"type": "rule", "color": "black", "strokeWidth": 1, "strokeDash": [5, 3]}, "encoding": {"y": {"field": "v", "type": "quantitative", "scale": {"domain": [-450, 650], "nice": false, "zero": false}, "axis": null}}},
        {"data": {"values": [{"v": 0}]}, "mark": {"type": "rule", "color": "black", "strokeWidth": 1, "strokeDash": [5, 3]}, "encoding": {"x": {"field": "v", "type": "quantitative", "scale": {"domain": [-1000, 100], "nice": false, "zero": false}, "axis": null}}},
        {"data": {"name": "sic"}, "mark": {"type": "rule", "color": "black", "strokeWidth": 1.3},
         "encoding": {"x": {"field": "xlo", "type": "quantitative", "scale": {"domain": [-1000, 100], "nice": false, "zero": false}, "axis": null}, "x2": {"field": "xhi"},
                      "y": {"field": "y", "type": "quantitative", "scale": {"domain": [-450, 650], "nice": false, "zero": false}, "axis": null}}},
        {"data": {"name": "sic"}, "mark": {"type": "rule", "color": "black", "strokeWidth": 1.3},
         "encoding": {"x": {"field": "x", "type": "quantitative", "axis": {"orient": "bottom", "values": [-1000, -800, -600, -400, -200, 0], "tickSize": -15, "labels": false, "title": null}},
                      "y": {"field": "ylo", "type": "quantitative", "axis": {"orient": "left", "values": [-400, -200, 0, 200, 400, 600], "tickSize": -15, "labels": false, "title": null}}, "y2": {"field": "yhi"}}},
        {"data": {"name": "sic"}, "mark": {"type": "point", "shape": "stroke", "size": 36, "color": "black", "strokeWidth": 1.2, "opacity": 1},
         "encoding": {"x": {"field": "x", "type": "quantitative", "axis": {"orient": "bottom", "values": [-950, -900, -850, -750, -700, -650, -550, -500, -450, -350, -300, -250, -150, -100, -50, 50], "tickSize": -8, "labels": false, "title": null}},
                      "y": {"field": "yhi", "type": "quantitative", "axis": {"orient": "left", "values": [-350, -300, -250, -150, -100, -50, 50, 100, 150, 250, 300, 350, 450, 500, 550], "tickSize": -8, "labels": false, "title": null}}}},
        {"data": {"name": "sic"}, "mark": {"type": "point", "shape": "stroke", "size": 36, "color": "black", "strokeWidth": 1.2, "opacity": 1},
         "encoding": {"x": {"field": "x", "type": "quantitative", "axis": {"orient": "top", "values": [-1000, -800, -600, -400, -200, 0], "tickSize": -15, "labels": false, "title": null}},
                      "y": {"field": "ylo", "type": "quantitative", "axis": {"orient": "right", "values": [-400, -200, 0, 200, 400, 600], "tickSize": -15, "labels": false, "title": null}}}},
        {"data": {"name": "sic"}, "mark": {"type": "circle", "size": 95, "color": "black", "opacity": 1},
         "encoding": {"x": {"field": "x", "type": "quantitative", "axis": {"orient": "top", "values": [-950, -900, -850, -750, -700, -650, -550, -500, -450, -350, -300, -250, -150, -100, -50, 50], "tickSize": -8, "labels": false, "title": null}},
                      "y": {"field": "y", "type": "quantitative", "axis": {"orient": "right", "values": [-350, -300, -250, -150, -100, -50, 50, 100, 150, 250, 300, 350, 450, 500, 550], "tickSize": -8, "labels": false, "title": null}}}},
        {"data": {"name": "curves"}, "transform": [{"filter": {"field": "p", "equal": "B"}}],
         "mark": {"type": "line", "strokeWidth": 1.5, "interpolate": "monotone"},
         "encoding": {"x": {"field": "x", "type": "quantitative", "axis": null}, "y": {"field": "y", "type": "quantitative", "axis": null},
                      "stroke": {"field": "m", "type": "nominal", "legend": null, "scale": {"domain": ["D3","D2","D1.5","D1,3","D1,1","ST"], "range": ["#2e9e58","#dc3fc4","#d08b16","#27a5ef","#c52b6d","#ff6433"]}}}},
        {"data": {"name": "curves"}, "transform": [{"filter": {"field": "p", "equal": "B"}}, {"filter": {"field": "k", "equal": "pulse"}}],
         "mark": {"type": "point", "filled": false, "size": 169, "strokeWidth": 1.3, "opacity": 1},
         "encoding": {"x": {"field": "x", "type": "quantitative", "axis": null}, "y": {"field": "y", "type": "quantitative", "axis": null},
                      "stroke": {"field": "m", "type": "nominal", "legend": null, "scale": {"domain": ["D3","D2","D1.5","D1,3","D1,1","ST"], "range": ["#2e9e58","#dc3fc4","#d08b16","#27a5ef","#c52b6d","#ff6433"]}},
                      "shape": {"field": "m", "type": "nominal", "legend": null, "scale": {"domain": ["D3","D2","D1.5","D1,3","D1,1","ST"], "range": ["M-1,-0.85L1,-0.85L0,0.9Z","M-1,0.85L1,0.85L0,-0.9Z","M-0.85,-0.85H0.85V0.85H-0.85Z","M0,-0.95L0.55,0L0,0.95L-0.55,0Z","M-1.15,0L0,-0.55L1.15,0L0,0.55Z","M-0.85,0A0.85,0.85,0,1,1,0.85,0A0.85,0.85,0,1,1,-0.85,0Z"]}}}},
        {"data": {"name": "boxes"}, "transform": [{"filter": {"field": "p", "equal": "B"}}],
         "mark": {"type": "rect", "filled": false, "stroke": "black", "strokeWidth": 1.5},
         "encoding": {"x": {"field": "x1", "type": "quantitative", "axis": null}, "x2": {"field": "x2"}, "y": {"field": "y1", "type": "quantitative", "axis": null}, "y2": {"field": "y2"}}},
        {"data": {"name": "texts"}, "transform": [{"filter": {"field": "p", "equal": "B"}}],
         "mark": {"type": "text", "align": "left", "baseline": "alphabetic", "fontSize": 22.5},
         "encoding": {"x": {"field": "x", "type": "quantitative", "axis": null}, "y": {"field": "y", "type": "quantitative", "axis": null}, "text": {"field": "t"}}},
        {"data": {"name": "suns"}, "transform": [{"filter": {"field": "p", "equal": "B"}}],
         "mark": {"type": "text", "align": "center", "baseline": "middle", "fontSize": 15},
         "encoding": {"x": {"field": "x", "type": "quantitative", "axis": null}, "y": {"field": "y", "type": "quantitative", "axis": null}, "text": {"field": "t"}}}
      ]
    },
    {"width": 1, "height": 1, "data": {"values": []}, "mark": "point", "view": {"stroke": null}},
    {"width": 18, "height": 400, "data": {"values": []}, "mark": "point", "view": {"fill": "#0b6ebd", "stroke": null}},

    {"width": 18, "height": 485, "data": {"values": []}, "mark": "point", "view": {"fill": "#0b6ebd", "stroke": null}},
    {"width": 1, "height": 1, "data": {"values": []}, "mark": "point", "view": {"stroke": null}},
    {
      "width": 400, "height": 400, "view": {"stroke": "black", "strokeWidth": 1.5},
      "resolve": {"axis": {"x": "independent", "y": "independent"}},
      "layer": [
        {"data": {"values": [{"v": 0}]}, "mark": {"type": "rule", "color": "black", "strokeWidth": 1, "strokeDash": [5, 3]}, "encoding": {"y": {"field": "v", "type": "quantitative", "scale": {"domain": [-450, 650], "nice": false, "zero": false}, "axis": null}}},
        {"data": {"values": [{"v": 0}]}, "mark": {"type": "rule", "color": "black", "strokeWidth": 1, "strokeDash": [5, 3]}, "encoding": {"x": {"field": "v", "type": "quantitative", "scale": {"domain": [-1000, 100], "nice": false, "zero": false}, "axis": null}}},
        {"data": {"name": "sic"}, "mark": {"type": "rule", "color": "black", "strokeWidth": 1.3},
         "encoding": {"x": {"field": "xlo", "type": "quantitative", "scale": {"domain": [-1000, 100], "nice": false, "zero": false}, "axis": {"orient": "bottom", "values": [-1000, -800, -600, -400, -200, 0], "ticks": false, "labelPadding": 8, "labelFlush": false, "labelOverlap": false, "labelExpr": "'' + datum.value", "title": "δ(⁸⁴Sr/⁸⁶Sr) (‰)", "titlePadding": 24}}, "x2": {"field": "xhi"},
                      "y": {"field": "y", "type": "quantitative", "scale": {"domain": [-450, 650], "nice": false, "zero": false}, "axis": {"orient": "left", "values": [-400, -200, 0, 200, 400, 600], "ticks": false, "labelPadding": 8, "labelFlush": false, "labelOverlap": false, "labelExpr": "'' + datum.value", "title": "δ(⁸⁸Sr/⁸⁶Sr) (‰)", "titlePadding": 9}}}},
        {"data": {"name": "sic"}, "mark": {"type": "rule", "color": "black", "strokeWidth": 1.3},
         "encoding": {"x": {"field": "x", "type": "quantitative", "axis": {"orient": "bottom", "values": [-1000, -800, -600, -400, -200, 0], "tickSize": -15, "labels": false, "title": null}},
                      "y": {"field": "ylo", "type": "quantitative", "axis": {"orient": "left", "values": [-400, -200, 0, 200, 400, 600], "tickSize": -15, "labels": false, "title": null}}, "y2": {"field": "yhi"}}},
        {"data": {"name": "sic"}, "mark": {"type": "point", "shape": "stroke", "size": 36, "color": "black", "strokeWidth": 1.2, "opacity": 1},
         "encoding": {"x": {"field": "x", "type": "quantitative", "axis": {"orient": "bottom", "values": [-950, -900, -850, -750, -700, -650, -550, -500, -450, -350, -300, -250, -150, -100, -50, 50], "tickSize": -8, "labels": false, "title": null}},
                      "y": {"field": "yhi", "type": "quantitative", "axis": {"orient": "left", "values": [-350, -300, -250, -150, -100, -50, 50, 100, 150, 250, 300, 350, 450, 500, 550], "tickSize": -8, "labels": false, "title": null}}}},
        {"data": {"name": "sic"}, "mark": {"type": "point", "shape": "stroke", "size": 36, "color": "black", "strokeWidth": 1.2, "opacity": 1},
         "encoding": {"x": {"field": "x", "type": "quantitative", "axis": {"orient": "top", "values": [-1000, -800, -600, -400, -200, 0], "tickSize": -15, "labels": false, "title": null}},
                      "y": {"field": "ylo", "type": "quantitative", "axis": {"orient": "right", "values": [-400, -200, 0, 200, 400, 600], "tickSize": -15, "labels": false, "title": null}}}},
        {"data": {"name": "sic"}, "mark": {"type": "circle", "size": 95, "color": "black", "opacity": 1},
         "encoding": {"x": {"field": "x", "type": "quantitative", "axis": {"orient": "top", "values": [-950, -900, -850, -750, -700, -650, -550, -500, -450, -350, -300, -250, -150, -100, -50, 50], "tickSize": -8, "labels": false, "title": null}},
                      "y": {"field": "y", "type": "quantitative", "axis": {"orient": "right", "values": [-350, -300, -250, -150, -100, -50, 50, 100, 150, 250, 300, 350, 450, 500, 550], "tickSize": -8, "labels": false, "title": null}}}},
        {"data": {"name": "curves"}, "transform": [{"filter": {"field": "p", "equal": "C"}}],
         "mark": {"type": "line", "strokeWidth": 1.5, "interpolate": "monotone"},
         "encoding": {"x": {"field": "x", "type": "quantitative", "axis": null}, "y": {"field": "y", "type": "quantitative", "axis": null},
                      "stroke": {"field": "m", "type": "nominal", "legend": null, "scale": {"domain": ["D3","D2","D1.5","D1,3","D1,1","ST"], "range": ["#2e9e58","#dc3fc4","#d08b16","#27a5ef","#c52b6d","#ff6433"]}}}},
        {"data": {"name": "curves"}, "transform": [{"filter": {"field": "p", "equal": "C"}}, {"filter": {"field": "k", "equal": "pulse"}}],
         "mark": {"type": "point", "filled": false, "size": 169, "strokeWidth": 1.3, "opacity": 1},
         "encoding": {"x": {"field": "x", "type": "quantitative", "axis": null}, "y": {"field": "y", "type": "quantitative", "axis": null},
                      "stroke": {"field": "m", "type": "nominal", "legend": null, "scale": {"domain": ["D3","D2","D1.5","D1,3","D1,1","ST"], "range": ["#2e9e58","#dc3fc4","#d08b16","#27a5ef","#c52b6d","#ff6433"]}},
                      "shape": {"field": "m", "type": "nominal", "legend": null, "scale": {"domain": ["D3","D2","D1.5","D1,3","D1,1","ST"], "range": ["M-1,-0.85L1,-0.85L0,0.9Z","M-1,0.85L1,0.85L0,-0.9Z","M-0.85,-0.85H0.85V0.85H-0.85Z","M0,-0.95L0.55,0L0,0.95L-0.55,0Z","M-1.15,0L0,-0.55L1.15,0L0,0.55Z","M-0.85,0A0.85,0.85,0,1,1,0.85,0A0.85,0.85,0,1,1,-0.85,0Z"]}}}},
        {"data": {"name": "boxes"}, "transform": [{"filter": {"field": "p", "equal": "C"}}],
         "mark": {"type": "rect", "filled": false, "stroke": "black", "strokeWidth": 1.5},
         "encoding": {"x": {"field": "x1", "type": "quantitative", "axis": null}, "x2": {"field": "x2"}, "y": {"field": "y1", "type": "quantitative", "axis": null}, "y2": {"field": "y2"}}},
        {"data": {"name": "texts"}, "transform": [{"filter": {"field": "p", "equal": "C"}}],
         "mark": {"type": "text", "align": "left", "baseline": "alphabetic", "fontSize": 22.5},
         "encoding": {"x": {"field": "x", "type": "quantitative", "axis": null}, "y": {"field": "y", "type": "quantitative", "axis": null}, "text": {"field": "t"}}},
        {"data": {"name": "suns"}, "transform": [{"filter": {"field": "p", "equal": "C"}}],
         "mark": {"type": "text", "align": "center", "baseline": "middle", "fontSize": 15},
         "encoding": {"x": {"field": "x", "type": "quantitative", "axis": null}, "y": {"field": "y", "type": "quantitative", "axis": null}, "text": {"field": "t"}}}
      ]
    },
    {
      "width": 400, "height": 400, "view": {"stroke": "black", "strokeWidth": 1.5},
      "resolve": {"axis": {"x": "independent", "y": "independent"}},
      "layer": [
        {"data": {"values": [{"v": 0}]}, "mark": {"type": "rule", "color": "black", "strokeWidth": 1, "strokeDash": [5, 3]}, "encoding": {"y": {"field": "v", "type": "quantitative", "scale": {"domain": [-450, 650], "nice": false, "zero": false}, "axis": null}}},
        {"data": {"values": [{"v": 0}]}, "mark": {"type": "rule", "color": "black", "strokeWidth": 1, "strokeDash": [5, 3]}, "encoding": {"x": {"field": "v", "type": "quantitative", "scale": {"domain": [-1000, 100], "nice": false, "zero": false}, "axis": null}}},
        {"data": {"name": "sic"}, "mark": {"type": "rule", "color": "black", "strokeWidth": 1.3},
         "encoding": {"x": {"field": "xlo", "type": "quantitative", "scale": {"domain": [-1000, 100], "nice": false, "zero": false}, "axis": {"orient": "bottom", "values": [-1000, -800, -600, -400, -200, 0], "ticks": false, "labelPadding": 8, "labelFlush": false, "labelOverlap": false, "labelExpr": "'' + datum.value", "title": "δ(⁸⁴Sr/⁸⁶Sr) (‰)", "titlePadding": 24}}, "x2": {"field": "xhi"},
                      "y": {"field": "y", "type": "quantitative", "scale": {"domain": [-450, 650], "nice": false, "zero": false}, "axis": null}}},
        {"data": {"name": "sic"}, "mark": {"type": "rule", "color": "black", "strokeWidth": 1.3},
         "encoding": {"x": {"field": "x", "type": "quantitative", "axis": {"orient": "bottom", "values": [-1000, -800, -600, -400, -200, 0], "tickSize": -15, "labels": false, "title": null}},
                      "y": {"field": "ylo", "type": "quantitative", "axis": {"orient": "left", "values": [-400, -200, 0, 200, 400, 600], "tickSize": -15, "labels": false, "title": null}}, "y2": {"field": "yhi"}}},
        {"data": {"name": "sic"}, "mark": {"type": "point", "shape": "stroke", "size": 36, "color": "black", "strokeWidth": 1.2, "opacity": 1},
         "encoding": {"x": {"field": "x", "type": "quantitative", "axis": {"orient": "bottom", "values": [-950, -900, -850, -750, -700, -650, -550, -500, -450, -350, -300, -250, -150, -100, -50, 50], "tickSize": -8, "labels": false, "title": null}},
                      "y": {"field": "yhi", "type": "quantitative", "axis": {"orient": "left", "values": [-350, -300, -250, -150, -100, -50, 50, 100, 150, 250, 300, 350, 450, 500, 550], "tickSize": -8, "labels": false, "title": null}}}},
        {"data": {"name": "sic"}, "mark": {"type": "point", "shape": "stroke", "size": 36, "color": "black", "strokeWidth": 1.2, "opacity": 1},
         "encoding": {"x": {"field": "x", "type": "quantitative", "axis": {"orient": "top", "values": [-1000, -800, -600, -400, -200, 0], "tickSize": -15, "labels": false, "title": null}},
                      "y": {"field": "ylo", "type": "quantitative", "axis": {"orient": "right", "values": [-400, -200, 0, 200, 400, 600], "tickSize": -15, "labels": false, "title": null}}}},
        {"data": {"name": "sic"}, "mark": {"type": "circle", "size": 95, "color": "black", "opacity": 1},
         "encoding": {"x": {"field": "x", "type": "quantitative", "axis": {"orient": "top", "values": [-950, -900, -850, -750, -700, -650, -550, -500, -450, -350, -300, -250, -150, -100, -50, 50], "tickSize": -8, "labels": false, "title": null}},
                      "y": {"field": "y", "type": "quantitative", "axis": {"orient": "right", "values": [-350, -300, -250, -150, -100, -50, 50, 100, 150, 250, 300, 350, 450, 500, 550], "tickSize": -8, "labels": false, "title": null}}}},
        {"data": {"name": "curves"}, "transform": [{"filter": {"field": "p", "equal": "D"}}],
         "mark": {"type": "line", "strokeWidth": 1.5, "interpolate": "monotone"},
         "encoding": {"x": {"field": "x", "type": "quantitative", "axis": null}, "y": {"field": "y", "type": "quantitative", "axis": null},
                      "stroke": {"field": "m", "type": "nominal", "legend": null, "scale": {"domain": ["D3","D2","D1.5","D1,3","D1,1","ST"], "range": ["#2e9e58","#dc3fc4","#d08b16","#27a5ef","#c52b6d","#ff6433"]}}}},
        {"data": {"name": "curves"}, "transform": [{"filter": {"field": "p", "equal": "D"}}, {"filter": {"field": "k", "equal": "pulse"}}],
         "mark": {"type": "point", "filled": false, "size": 169, "strokeWidth": 1.3, "opacity": 1},
         "encoding": {"x": {"field": "x", "type": "quantitative", "axis": null}, "y": {"field": "y", "type": "quantitative", "axis": null},
                      "stroke": {"field": "m", "type": "nominal", "legend": null, "scale": {"domain": ["D3","D2","D1.5","D1,3","D1,1","ST"], "range": ["#2e9e58","#dc3fc4","#d08b16","#27a5ef","#c52b6d","#ff6433"]}},
                      "shape": {"field": "m", "type": "nominal", "legend": null, "scale": {"domain": ["D3","D2","D1.5","D1,3","D1,1","ST"], "range": ["M-1,-0.85L1,-0.85L0,0.9Z","M-1,0.85L1,0.85L0,-0.9Z","M-0.85,-0.85H0.85V0.85H-0.85Z","M0,-0.95L0.55,0L0,0.95L-0.55,0Z","M-1.15,0L0,-0.55L1.15,0L0,0.55Z","M-0.85,0A0.85,0.85,0,1,1,0.85,0A0.85,0.85,0,1,1,-0.85,0Z"]}}}},
        {"data": {"name": "boxes"}, "transform": [{"filter": {"field": "p", "equal": "D"}}],
         "mark": {"type": "rect", "filled": false, "stroke": "black", "strokeWidth": 1.5},
         "encoding": {"x": {"field": "x1", "type": "quantitative", "axis": null}, "x2": {"field": "x2"}, "y": {"field": "y1", "type": "quantitative", "axis": null}, "y2": {"field": "y2"}}},
        {"data": {"name": "texts"}, "transform": [{"filter": {"field": "p", "equal": "D"}}],
         "mark": {"type": "text", "align": "left", "baseline": "alphabetic", "fontSize": 22.5},
         "encoding": {"x": {"field": "x", "type": "quantitative", "axis": null}, "y": {"field": "y", "type": "quantitative", "axis": null}, "text": {"field": "t"}}},
        {"data": {"name": "suns"}, "transform": [{"filter": {"field": "p", "equal": "D"}}],
         "mark": {"type": "text", "align": "center", "baseline": "middle", "fontSize": 15},
         "encoding": {"x": {"field": "x", "type": "quantitative", "axis": null}, "y": {"field": "y", "type": "quantitative", "axis": null}, "text": {"field": "t"}}}
      ]
    },
    {"width": 1, "height": 1, "data": {"values": []}, "mark": "point", "view": {"stroke": null}},
    {"width": 18, "height": 485, "data": {"values": []}, "mark": "point", "view": {"fill": "#0b6ebd", "stroke": null}}
  ]
}
